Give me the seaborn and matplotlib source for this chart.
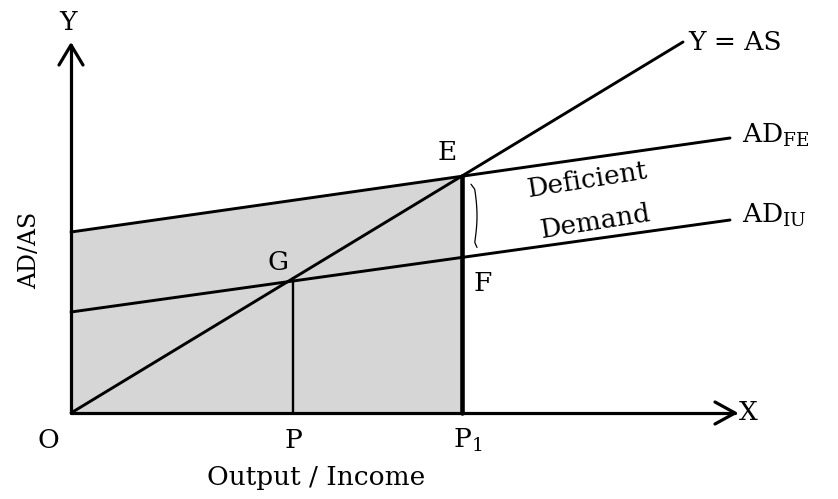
import numpy as np
import pandas as pd
import matplotlib
matplotlib.use("Agg")
import matplotlib.pyplot as plt
import seaborn as sns

sns.set_theme(style="white")
plt.rcParams['font.family'] = ['DejaVu Serif', 'Liberation Serif']
plt.rcParams['mathtext.fontset'] = 'custom'
plt.rcParams['mathtext.rm'] = 'DejaVu Serif'
plt.rcParams['text.color'] = 'black'

# ---- data (diagram units: origin at O) ----
as_x = [0, 612]          # Y = AS line
as_y = [0, 371]
adfe_x = [0, 659]        # AD_FE line
adfe_y = [181, 275]
adiu_x = [0, 659]        # AD_IU line
adiu_y = [101, 193]
p_x = 222                # output P (point G)
p1_x = 391               # output P1 (point E)

def line_at(xs, ys, x):
    return ys[0] + (ys[1] - ys[0]) * (x - xs[0]) / (xs[1] - xs[0])

g_y = line_at(as_x, as_y, p_x)
e_y = line_at(adfe_x, adfe_y, p1_x)
f_y = line_at(adiu_x, adiu_y, p1_x)

fig = plt.figure(figsize=(8.38, 4.99), dpi=100)
ax = fig.add_axes([0, 0, 1, 1])
ax.set_xlim(-71, 767)
ax.set_ylim(-86, 413)
ax.axis('off')

# shaded area O - AD_FE intercept - E - P1
ax.fill([0, 0, p1_x, p1_x], [0, adfe_y[0], e_y, 0], color='#d6d6d6', zorder=0, lw=0)

lines = pd.DataFrame({
    'x': as_x + adfe_x + adiu_x,
    'y': as_y + adfe_y + adiu_y,
    'curve': ['AS'] * 2 + ['ADFE'] * 2 + ['ADIU'] * 2,
})
sns.lineplot(data=lines, x='x', y='y', units='curve', estimator=None,
             color='black', lw=2.1, ax=ax, legend=False, sort=False)

# verticals
ax.plot([p_x, p_x], [0, g_y], color='black', lw=1.7)
ax.plot([p1_x, p1_x], [0, e_y], color='black', lw=3.3)

# axes with open arrowheads
ax.plot([0, 0], [0, 368], color='black', lw=2.3)
ax.plot([0, 664], [0, 0], color='black', lw=2.3)
ax.plot([-12, 0, 12], [348, 368, 348], color='black', lw=2.3)
ax.plot([644, 664, 644], [11, 0, -11], color='black', lw=2.3)

# brace
t = np.linspace(0, 1, 40)
bx = p1_x + 12 + 3 * np.sin(np.pi * t) - 3 * (t < 0.08) * (0.08 - t) / 0.08 + 3 * (t > 0.92) * (t - 0.92) / 0.08
by = e_y - 8 - t * (e_y - f_y - 18)
ax.plot(bx, by, color='black', lw=0.9)

fs = 19
ax.text(-3, 391, 'Y', fontsize=fs, ha='center', va='center')
ax.text(677, 0, 'X', fontsize=fs, ha='center', va='center')
ax.text(-23, -27, 'O', fontsize=fs, ha='center', va='center')
ax.text(p_x, -27, 'P', fontsize=fs, ha='center', va='center')
ax.text(p1_x + 6, -27, r'P$_1$', fontsize=fs, ha='center', va='center')
ax.text(245, -65, 'Output / Income', fontsize=fs, ha='center', va='center')
ax.text(-41, 163, 'AD/AS', fontsize=17, ha='center', va='center', rotation=90)
ax.text(376, 261, 'E', fontsize=fs, ha='center', va='center')
ax.text(207, 151, 'G', fontsize=fs, ha='center', va='center')
ax.text(412, 130, 'F', fontsize=fs, ha='center', va='center')
ax.text(516, 233, 'Deficient', fontsize=fs, ha='center', va='center', rotation=9)
ax.text(524, 191, 'Demand', fontsize=fs, ha='center', va='center', rotation=9)
ax.text(617, 371, 'Y = AS', fontsize=fs, ha='left', va='center')
ax.text(671, 278, r'AD$_{\mathrm{FE}}$', fontsize=fs, ha='left', va='center')
ax.text(671, 198, r'AD$_{\mathrm{IU}}$', fontsize=fs, ha='left', va='center')

fig.savefig('out.png', dpi=100)
